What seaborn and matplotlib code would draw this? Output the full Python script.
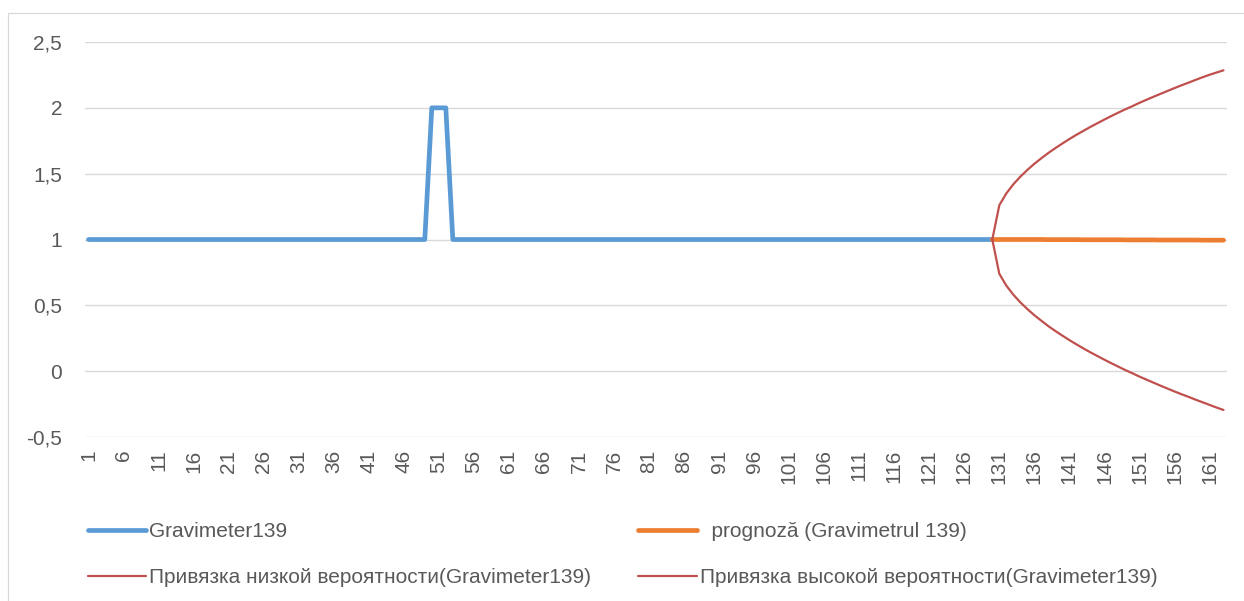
import numpy as np
import pandas as pd
import seaborn as sns
import matplotlib.pyplot as plt
from matplotlib.lines import Line2D

# observed series (index 1..130), spike at 50-52
obs_x = list(range(1, 131))
gravimeter = [1] * 49 + [2, 2, 2] + [1] * 78

# forecast part (130..163)
fc_x = list(range(130, 164))
forecast = [1.000, 1.000, 1.000, 1.000, 1.000, 1.000, 1.000, 1.000, 0.999, 0.999,
            0.999, 0.999, 0.999, 0.998, 0.998, 0.998, 0.998, 0.998, 0.998, 0.997,
            0.997, 0.997, 0.997, 0.997, 0.996, 0.996, 0.996, 0.996, 0.996, 0.996,
            0.995, 0.995, 0.995, 0.995]
upper = [1.000, 1.260, 1.350, 1.419, 1.477, 1.528, 1.575, 1.617, 1.657, 1.694,
         1.729, 1.763, 1.795, 1.825, 1.855, 1.883, 1.911, 1.938, 1.964, 1.989,
         2.013, 2.038, 2.061, 2.084, 2.106, 2.128, 2.150, 2.171, 2.191, 2.212,
         2.232, 2.251, 2.268, 2.285]
lower = [1.000, 0.740, 0.650, 0.581, 0.523, 0.472, 0.425, 0.383, 0.342, 0.305,
         0.270, 0.236, 0.204, 0.173, 0.143, 0.115, 0.087, 0.060, 0.034, 0.008,
         -0.016, -0.041, -0.064, -0.087, -0.110, -0.132, -0.154, -0.175, -0.195, -0.216,
         -0.236, -0.256, -0.276, -0.295]

labels = ["Gravimeter139", "  prognoză (Gravimetrul 139)",
          "Привязка низкой вероятности(Gravimeter139)",
          "Привязка высокой вероятности(Gravimeter139)"]

y_ticks = [-0.5, 0, 0.5, 1, 1.5, 2, 2.5]
x_ticks = list(range(1, 164, 5))

sns.set_theme(style="white")
plt.rcParams["font.family"] = ["Liberation Sans", "DejaVu Sans"]
text_col = "#595959"
grid_col = "#D9D9D9"
blue, orange, red = "#5B9BD5", "#ED7D31", "#C0504D"
fs = 15

fig = plt.figure(figsize=(12.44, 6.01), dpi=100)
ax = fig.add_axes([85 / 1244, 1 - 437 / 601, (1227 - 85) / 1244, (437 - 42) / 601])

sns.lineplot(x=obs_x, y=gravimeter, ax=ax, color=blue, linewidth=3.4, label=labels[0])
sns.lineplot(x=fc_x, y=forecast, ax=ax, color=orange, linewidth=3.4, label=labels[1])
sns.lineplot(x=fc_x, y=lower, ax=ax, color=red, linewidth=1.6, label=labels[2])
sns.lineplot(x=fc_x, y=upper, ax=ax, color=red, linewidth=1.6, label=labels[3])

ax.set_xlim(0.5, 163.5)
ax.set_ylim(-0.5, 2.5)
ax.set_yticks(y_ticks)
ax.set_yticklabels([f"{v:g}".replace(".", ",") for v in y_ticks])
ax.set_xticks(x_ticks)
ax.set_xticklabels([str(v) for v in x_ticks], rotation=90)
ax.tick_params(axis="y", length=0, pad=16.5, labelsize=fs, labelcolor=text_col)
ax.tick_params(axis="x", length=0, pad=9, labelsize=fs, labelcolor=text_col)
ax.grid(axis="y", color=grid_col, linewidth=1.0)
ax.grid(axis="x", visible=False)
for s in ax.spines.values():
    s.set_visible(False)

h, l = ax.get_legend_handles_labels()
order = [0, 2, 1, 3]
ax.legend([h[i] for i in order], [l[i] for i in order], ncol=2, frameon=False,
          loc="upper left", bbox_to_anchor=(88 / 1244, 1 - 522 / 601),
          bbox_transform=fig.transFigure, fontsize=fs, handlelength=2.8,
          handletextpad=0.15, labelspacing=1.3, columnspacing=2.25,
          borderpad=0, borderaxespad=0, labelcolor=text_col)

# chart area border (left and top edges visible)
fig.add_artist(Line2D([8 / 1244, 8 / 1244], [0, 1 - 13 / 601], color=grid_col,
                      linewidth=0.9, transform=fig.transFigure))
fig.add_artist(Line2D([8 / 1244, 1], [1 - 13 / 601, 1 - 13 / 601], color=grid_col,
                      linewidth=0.9, transform=fig.transFigure))

fig.savefig("out.png", dpi=100)
plt.close(fig)
